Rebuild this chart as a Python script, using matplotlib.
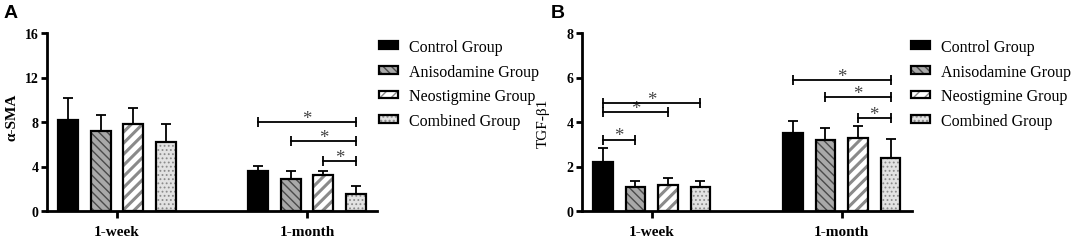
import matplotlib
matplotlib.use("Agg")
import matplotlib.pyplot as plt
from matplotlib.patches import Patch
from matplotlib.legend_handler import HandlerTuple
import numpy as np

# ---------------- data ----------------
timepoints = ["1-week", "1-month"]
groups = ["Control Group", "Anisodamine Group", "Neostigmine Group", "Combined Group"]

sma_mean = {"Control Group": [8.2, 3.57], "Anisodamine Group": [7.16, 2.85],
            "Neostigmine Group": [7.8, 3.21], "Combined Group": [6.17, 1.53]}
sma_err = {"Control Group": [1.95, 0.48], "Anisodamine Group": [1.44, 0.77],
           "Neostigmine Group": [1.5, 0.43], "Combined Group": [1.63, 0.69]}

tgf_mean = {"Control Group": [2.2, 3.51], "Anisodamine Group": [1.1, 3.2],
            "Neostigmine Group": [1.15, 3.3], "Combined Group": [1.1, 2.39]}
tgf_err = {"Control Group": [0.64, 0.54], "Anisodamine Group": [0.23, 0.52],
           "Neostigmine Group": [0.34, 0.5], "Combined Group": [0.26, 0.85]}

sma_ticks = [0, 4, 8, 12, 16]
tgf_ticks = [0, 2, 4, 6, 8]

# significance brackets: (timepoint index, group i, group j, height)
sma_sig = [(1, 0, 3, 7.97), (1, 1, 3, 6.26), (1, 2, 3, 4.5)]
tgf_sig = [(0, 0, 1, 3.21), (0, 0, 2, 4.45), (0, 0, 3, 4.85),
           (1, 0, 3, 5.9), (1, 1, 3, 5.11), (1, 2, 3, 4.18)]

# ---------------- style ----------------
serif = ["Liberation Serif", "DejaVu Serif"]
plt.rcParams["font.family"] = serif

styles = {
    "Control Group": dict(face="black", hatch=None, hcolor="black", hlw=1.0),
    "Anisodamine Group": dict(face="#a9a9a9", hatch="\\\\\\\\", hcolor="#4a4a4a", hlw=1.0),
    "Neostigmine Group": dict(face="white", hatch="///", hcolor="#8a8a8a", hlw=2.2),
    "Combined Group": dict(face="#e2e2e2", hatch="....", hcolor="#8a8a8a", hlw=0.8),
}

offsets = np.array([-1.5, -0.5, 0.5, 1.5]) * (16.25 * 2 / 190)
bw = 0.104

W, H = 1072, 253
fig = plt.figure(figsize=(W / 100, H / 100), dpi=100)


def make_axes(left_px):
    return fig.add_axes([left_px / W, 1 - 212 / H, 330 / W, 178 / H])


def draw_panel(ax, means, errs, ticks, ylabel, sig, ylabel_xy, ylabel_weight):
    x = np.arange(len(timepoints))
    ymax = ticks[-1]
    for gi, g in enumerate(groups):
        st = styles[g]
        xs = x + offsets[gi]
        with plt.rc_context({"hatch.color": st["hcolor"], "hatch.linewidth": st["hlw"]}):
            ax.bar(xs, means[g], width=bw, color=st["face"], hatch=st["hatch"],
                   linewidth=0, zorder=2)
        ax.bar(xs, means[g], width=bw, fill=False, edgecolor="black",
               linewidth=1.6, zorder=3)
        ax.errorbar(xs, means[g], yerr=[np.zeros(len(x)), errs[g]], fmt="none",
                    ecolor="black", elinewidth=1.3, capsize=3.6, capthick=1.3,
                    zorder=1)
    for (t, i, j, h) in sig:
        x1 = x[t] + offsets[i]
        x2 = x[t] + offsets[j]
        ax.plot([x1, x2], [h, h], color="black", lw=1.3, marker="|",
                markersize=7, mew=1.3, zorder=4, clip_on=False)
        ax.annotate("*", xy=((x1 + x2) / 2, h), xytext=(0, -3.5),
                    textcoords="offset points", ha="center", va="bottom",
                    fontsize=13.5, color="#444444", family=serif)
    ax.set_xlim(-0.368, 1.368)
    ax.set_ylim(0, ymax)
    ax.set_yticks(ticks)
    ax.set_xticks(x)
    ax.set_xticklabels(timepoints, fontsize=11, fontweight="bold")
    ax.set_yticklabels([str(t) for t in ticks], fontsize=10, fontweight="bold")
    for s in ["top", "right"]:
        ax.spines[s].set_visible(False)
    for s in ["left", "bottom"]:
        ax.spines[s].set_linewidth(2.0)
    ax.tick_params(axis="y", length=4, width=2.0, pad=2)
    ax.tick_params(axis="x", length=5, width=2.0, pad=5)
    ax.set_ylabel(ylabel, fontsize=11, fontweight=ylabel_weight)
    ax.yaxis.set_label_coords(*ylabel_xy)


def add_legend(ax, left_px):
    handles = []
    for g in groups:
        st = styles[g]
        with plt.rc_context({"hatch.color": st["hcolor"], "hatch.linewidth": st["hlw"]}):
            fillp = Patch(facecolor=st["face"], hatch=st["hatch"], linewidth=0)
        edgep = Patch(fill=False, edgecolor="black", linewidth=1.6)
        handles.append((fillp, edgep))
    ax.legend(handles, groups, handler_map={tuple: HandlerTuple(ndivide=1, pad=0)},
              loc="upper left", bbox_to_anchor=(left_px / W, 1 - 40 / H),
              bbox_transform=fig.transFigure, frameon=False,
              handlelength=1.2, handleheight=0.35, handletextpad=0.7,
              labelspacing=0.54, borderpad=0, borderaxespad=0,
              prop={"family": serif, "size": 11.5})


axA = make_axes(47)
draw_panel(axA, sma_mean, sma_err, sma_ticks, "α-SMA", sma_sig, (-0.086, 0.53), "bold")
add_legend(axA, 379)

axB = make_axes(581.7)
draw_panel(axB, tgf_mean, tgf_err, tgf_ticks, "TGF-β1", tgf_sig, (-0.097, 0.50), "normal")
add_legend(axB, 911)

fig.text(4 / W, 1 - 18.5 / H, "A", fontsize=14, fontweight="bold",
         family=["Liberation Sans", "DejaVu Sans"])
fig.text(551 / W, 1 - 18.5 / H, "B", fontsize=14, fontweight="bold",
         family=["Liberation Sans", "DejaVu Sans"])

fig.savefig("out.png", dpi=100)
